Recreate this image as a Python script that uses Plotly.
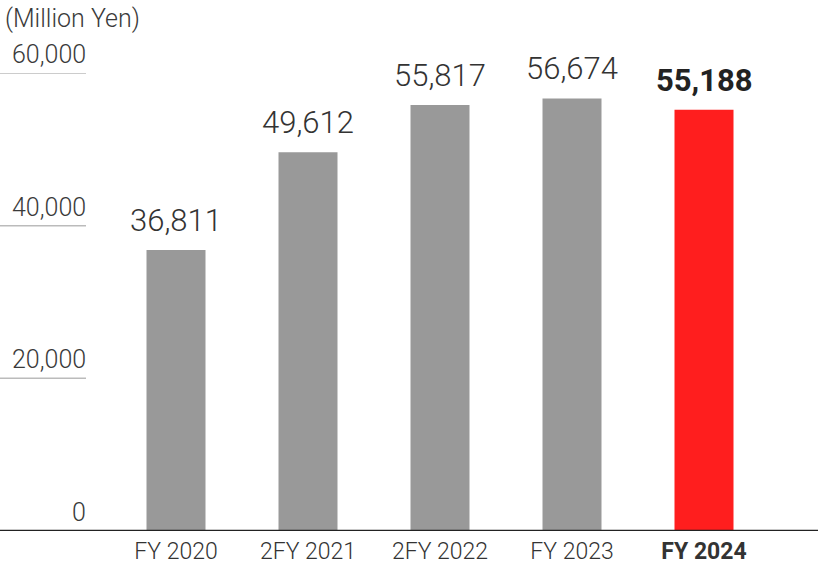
import plotly.graph_objects as go

# sales figures (million yen)
years = ["FY 2020", "2FY 2021", "2FY 2022", "FY 2023", "FY 2024"]
sales = [36811, 49612, 55817, 56674, 55188]
y_ticks = [0, 20000, 40000, 60000]

bar_colors = ["#999999"] * 4 + ["#ff1e1e"]
tick_text = years[:-1] + ["<b>" + years[-1] + "</b>"]

W, H = 818, 588
L, R, T, B = 110, 48, 73, 57
pw = W - L - R

fig = go.Figure()
fig.add_trace(go.Bar(
    x=years, y=sales,
    marker=dict(color=bar_colors, line=dict(width=0)),
    hoverinfo="skip",
))

# value labels above bars
for i, (yr, v) in enumerate(zip(years, sales)):
    last = i == len(years) - 1
    fig.add_annotation(
        x=yr, y=v, text=f"{v:,}", showarrow=False,
        yanchor="bottom", yshift=9,
        font=dict(family="Roboto", size=31, color="#222222" if last else "#333333",
                  weight=700 if last else 300),
    )

# short gridlines + labels on the left
for t in y_ticks:
    fig.add_shape(type="line", xref="paper", yref="y",
                  x0=-L / pw, x1=(86 - L) / pw, y0=t, y1=t,
                  line=dict(color="#bbbbbb", width=1.5))
    fig.add_annotation(xref="paper", yref="y", x=(88 - L) / pw, y=t,
                       text=f"{t:,}", showarrow=False,
                       xanchor="right", yanchor="bottom", yshift=2,
                       font=dict(family="Roboto", size=25, color="#3a3a3a", weight=300))

# baseline
fig.add_shape(type="line", xref="paper", yref="y",
              x0=-L / pw, x1=(W - L) / pw, y0=0, y1=0,
              line=dict(color="#222222", width=2.5))

fig.add_annotation(xref="paper", yref="paper", x=(3 - L) / pw,
                   y=1 + (T - 18) / (H - T - B),
                   text="(Million Yen)", showarrow=False,
                   xanchor="left", yanchor="middle",
                   font=dict(family="Roboto", size=25, color="#3a3a3a", weight=300))

fig.update_layout(
    width=W, height=H,
    margin=dict(l=L, r=R, t=T, b=B),
    plot_bgcolor="white", paper_bgcolor="white",
    bargap=0.553,
    showlegend=False,
    font=dict(family="Roboto"),
)
fig.update_xaxes(tickvals=years, ticktext=tick_text, showgrid=False, showline=False,
                 ticks="", ticklabelstandoff=4,
                 tickfont=dict(family="Roboto", size=23, color="#333333", weight=300))
fig.update_yaxes(range=[0, 60000], showgrid=False, showticklabels=False,
                 zeroline=False, showline=False)

fig.write_html("out.html", config={"displayModeBar": False},
               post_script="document.body.style.margin='0';")
